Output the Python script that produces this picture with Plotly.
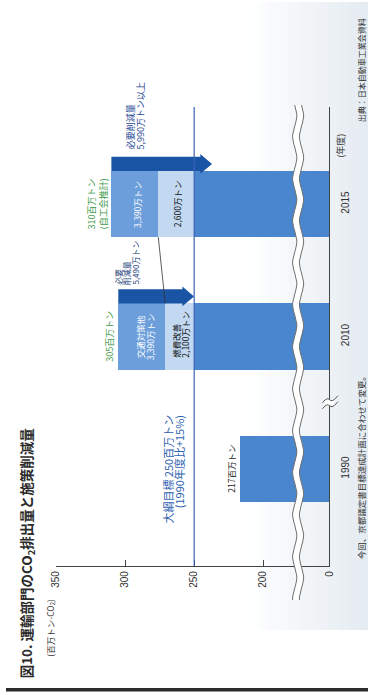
import math
import plotly.graph_objects as go

W, H = 373, 695

# ---- data (百万トン-CO2) ----
years = ["1990", "2010", "2015"]
total = [217, 305, 310]                 # 排出量
target = 250                            # 大綱目標
fuel_cut = [None, 21.0, 26.0]           # 燃費改善
traffic_cut = [None, 33.9, 33.9]        # 交通対策他
required_cut = [None, 54.9, 59.9]       # 必要削減量
required_suffix = ["", "", "以上"]
total_notes = ["", "", "(自工会推計)"]
value_ticks = [200, 250, 300, 350]

# ---- styling ----
C_MAIN = "#4a86ce"
C_TRAFFIC = "#6c9edb"
C_FUEL = "#c2d9f1"
C_ARROW = "#1a55a5"
C_TARGET = "#3d63b3"
C_GREEN = "#3f9a48"
C_NAVY = "#233d7a"
C_AXIS = "#444444"
FJ = "Noto Sans CJK JP"
FN = "Liberation Sans"

# axis geometry in pixels
PX_PER_UNIT = 1.422
X350 = 51.7
X_SPLIT = 301.0
X_ZERO = 333.3
Y_AXIS = 566.0
Y_TOP = 107.0
Y_1990 = 469.0
CAT_PX = 132.5


def px(x):
    return x / W


def py(y):
    return 1 - y / H


main_lo = 350 - (X_SPLIT - X350) / PX_PER_UNIT
low_hi = (X_ZERO - X_SPLIT) / PX_PER_UNIT
y_lo = (Y_1990 - Y_AXIS) / CAT_PX
y_hi = (Y_1990 - Y_TOP) / CAT_PX
UY = 1 / CAT_PX          # one pixel in category units
UX = 1 / PX_PER_UNIT     # one pixel in value units

pos = list(range(len(years)))
base_vals = [t if f is None else target for t, f in zip(total, fuel_cut)]

fig = go.Figure()
for xa in ("x", "x2"):
    fig.add_trace(go.Bar(orientation="h", y=pos, x=base_vals, base=0, width=0.5,
                         marker=dict(color=C_MAIN, line=dict(width=0)),
                         xaxis=xa, yaxis="y", showlegend=False, hoverinfo="skip"))

seg_idx = [i for i, f in enumerate(fuel_cut) if f is not None]
fig.add_trace(go.Bar(orientation="h", y=[pos[i] for i in seg_idx],
                     x=[fuel_cut[i] for i in seg_idx], base=[target] * len(seg_idx),
                     width=0.5, marker=dict(color=C_FUEL, line=dict(width=0)),
                     xaxis="x", yaxis="y", showlegend=False, hoverinfo="skip"))
fig.add_trace(go.Bar(orientation="h", y=[pos[i] for i in seg_idx],
                     x=[traffic_cut[i] for i in seg_idx],
                     base=[target + fuel_cut[i] for i in seg_idx],
                     width=0.5, marker=dict(color=C_TRAFFIC, line=dict(width=0)),
                     xaxis="x", yaxis="y", showlegend=False, hoverinfo="skip"))


# ---- scale-break decorations on a full-page overlay (pixel units) ----
def wave(xc, y0=105, y1=600, amp=2.2, period=42, step=3):
    xs, ys = [], []
    y = y0
    while y <= y1:
        xs.append(xc + amp * math.sin(2 * math.pi * (y - y0) / period))
        ys.append(y)
        y += step
    return xs, ys


wax, way = wave(297.5)
wbx, wby = wave(304.5)
fig.add_trace(go.Scatter(x=wax + wbx[::-1], y=way + wby[::-1], mode="lines",
                         fill="toself", fillcolor="white", line=dict(width=0, color="white"),
                         xaxis="x3", yaxis="y3", showlegend=False, hoverinfo="skip"))
for xs, ys in ((wax, way), (wbx, wby)):
    fig.add_trace(go.Scatter(x=xs, y=ys, mode="lines", line=dict(color="#707070", width=1),
                             xaxis="x3", yaxis="y3", showlegend=False, hoverinfo="skip"))

yb = Y_1990 - 0.5 * CAT_PX
fig.add_trace(go.Scatter(x=[329, 338, 338, 329, 329], y=[yb - 3, yb - 3, yb + 3, yb + 3, yb - 3],
                         mode="lines", fill="toself", fillcolor="white",
                         line=dict(width=0, color="white"),
                         xaxis="x3", yaxis="y3", showlegend=False, hoverinfo="skip"))
for d in (-3, 3):
    fig.add_trace(go.Scatter(x=[326, 331, 336, 342], y=[yb + d + 3, yb + d - 1, yb + d + 1, yb + d - 4],
                             mode="lines", line=dict(color="#555555", width=1, shape="spline"),
                             xaxis="x3", yaxis="y3", showlegend=False, hoverinfo="skip"))

shapes = []

# soft tint on the right of the page
for k in range(12):
    x0 = 250 + k * 10.25
    shapes.append(dict(type="rect", xref="paper", yref="paper", layer="below",
                       x0=px(x0), x1=px(x0 + 10.25), y0=py(630), y1=py(2),
                       fillcolor="#cfdbe6", opacity=0.04 + 0.045 * k,
                       line=dict(width=0, color="rgba(0,0,0,0)")))

# required-reduction arrows above the stacked bars
for i in seg_idx:
    start = total[i]
    end = total[i] - required_cut[i] - (13 if required_suffix[i] else 0)
    top = pos[i] + 0.25
    b0, b1 = top, top + 14 * UY
    h0, h1 = top - 3 * UY, top + 17 * UY
    hb = end + 12 * UX
    mid = (b0 + b1) / 2
    path = (f"M {start},{b0:.4f} L {hb:.3f},{b0:.4f} L {hb:.3f},{h0:.4f} L {end:.3f},{mid:.4f} "
            f"L {hb:.3f},{h1:.4f} L {hb:.3f},{b1:.4f} L {start},{b1:.4f} Z")
    shapes.append(dict(type="path", xref="x", yref="y", path=path,
                       fillcolor=C_ARROW, line=dict(width=0, color=C_ARROW)))

# connector between fuel-improvement levels
shapes.append(dict(type="line", xref="x", yref="y",
                   x0=target + fuel_cut[2], y0=pos[2] - 0.25,
                   x1=target + fuel_cut[1], y1=pos[1] + 0.25,
                   line=dict(color="#333333", width=0.8)))

# target line
shapes.append(dict(type="line", xref="x", yref="y", x0=target, x1=target,
                   y0=y_lo, y1=(Y_1990 - 105) / CAT_PX,
                   line=dict(color=C_TARGET, width=1.2)))

# bottom rule
shapes.append(dict(type="rect", xref="paper", yref="paper", x0=0, x1=1,
                   y0=py(691.5), y1=py(688), fillcolor="#2b2b2b",
                   line=dict(width=0, color="#2b2b2b")))

annotations = []


def ann(text, x, y, size, color, xref="paper", yref="paper", xanchor="center",
        yanchor="middle", xshift=0, yshift=0, weight="normal", family=FJ):
    if xref == "paper":
        x = px(x)
    if yref == "paper":
        y = py(y)
    annotations.append(dict(text=text, x=x, y=y, xref=xref, yref=yref, textangle=-90,
                            xanchor=xanchor, yanchor=yanchor, xshift=xshift, yshift=yshift,
                            showarrow=False, font=dict(family=family, size=size,
                                                       color=color, weight=weight)))


def man(v):
    return f"{int(round(v * 100)):,}万トン"


ann("図10. 運輸部門のCO<sub>2</sub>排出量と施策削減量", 22, 553, 13.5, "#2a2a2a", weight="bold")
ann("(百万トン-CO<sub>2</sub>)", 46, 628, 8.5, "#333333")

# totals
ann(f"{total[0]}百万トン", total[0], pos[0], 8.5, "#222222", xref="x", yref="y", xshift=-9)
ann(f"{total[1]}百万トン", total[1], pos[1], 9, C_GREEN, xref="x", yref="y", xshift=-9)
ann(f"{total[2]}百万トン", total[2], pos[2], 9, C_GREEN, xref="x", yref="y", xshift=-20)
ann(total_notes[2], total[2], pos[2], 9, C_GREEN, xref="x", yref="y", xshift=-8)

# required reductions
ann("必要", 116.5, 287, 8, C_NAVY, yanchor="bottom")
ann("削減量", 125, 287, 8, C_NAVY, yanchor="bottom")
ann(man(required_cut[1]) + required_suffix[1], 133.5, 287, 8, C_NAVY, yanchor="bottom")
ann("必要削減量", 128.5, 151, 9, "#1f4a96", yanchor="bottom")
ann(man(required_cut[2]) + required_suffix[2], 139, 151, 9, "#1f4a96", yanchor="bottom")

# stacked segment labels
mid_tr = [target + fuel_cut[i] + traffic_cut[i] / 2 if fuel_cut[i] else None for i in pos]
mid_fu = [target + fuel_cut[i] / 2 if fuel_cut[i] else None for i in pos]
ann(man(traffic_cut[2]), mid_tr[2], pos[2], 8.5, "white", xref="x", yref="y", xshift=2)
ann(man(fuel_cut[2]), mid_fu[2], pos[2], 8.5, "#111111", xref="x", yref="y", xshift=1)
ann("交通対策他", mid_tr[1], pos[1], 8.5, "white", xref="x", yref="y", xshift=-2)
ann(man(traffic_cut[1]), mid_tr[1], pos[1], 8.5, "white", xref="x", yref="y", xshift=8)
ann("燃費改善", mid_fu[1], pos[1] - 23 * UY, 8.5, "#111111", xref="x", yref="y",
    yanchor="bottom", xshift=-4)
ann(man(fuel_cut[1]), mid_fu[1], pos[1] - 23 * UY, 8.5, "#111111", xref="x", yref="y",
    yanchor="bottom", xshift=5)

# target label
ann(f"大綱目標 {target}百万トン", 166, 413, 11, "#2f62b0", yanchor="top")
ann("(1990年度比+15%)", 178, 413, 11, "#2f62b0", yanchor="top")

ann("(年度)", 345, 146, 9, "#333333")
ann("今回、京都議定書目標達成計画に合わせて変更。", 366, 466, 8.5, "#333333")
ann("出典：日本自動車工業会資料", 366, 70, 8, "#333333")

axis_common = dict(showgrid=False, zeroline=False, showline=True, linecolor=C_AXIS,
                   linewidth=1.3, ticks="inside", ticklen=6, tickcolor=C_AXIS,
                   tickwidth=1.2, tickangle=-90, anchor="y",
                   tickfont=dict(family=FN, size=10, color="#333333"))

fig.update_layout(
    width=W, height=H, margin=dict(l=0, r=0, t=0, b=0),
    paper_bgcolor="white", plot_bgcolor="rgba(0,0,0,0)",
    barmode="overlay", bargap=0,
    xaxis=dict(domain=[px(X350), px(X_SPLIT)], range=[350, main_lo],
               tickvals=value_ticks, **axis_common),
    xaxis2=dict(domain=[px(X_SPLIT), px(X_ZERO)], range=[low_hi, 0],
                tickvals=[0], **axis_common),
    yaxis=dict(domain=[py(Y_AXIS), py(Y_TOP)], range=[y_lo, y_hi], anchor="x2",
               side="right", showline=True, linecolor=C_AXIS, linewidth=1.3,
               showgrid=False, zeroline=False, ticks="", tickvals=pos, ticktext=years,
               tickangle=-90, ticklabelstandoff=6,
               tickfont=dict(family=FN, size=10, color="#333333")),
    xaxis3=dict(domain=[0, 1], range=[0, W], visible=False, anchor="y3", fixedrange=True),
    yaxis3=dict(domain=[0, 1], range=[H, 0], visible=False, anchor="x3", fixedrange=True),
    shapes=shapes, annotations=annotations,
)

fig.write_html("out.html")
